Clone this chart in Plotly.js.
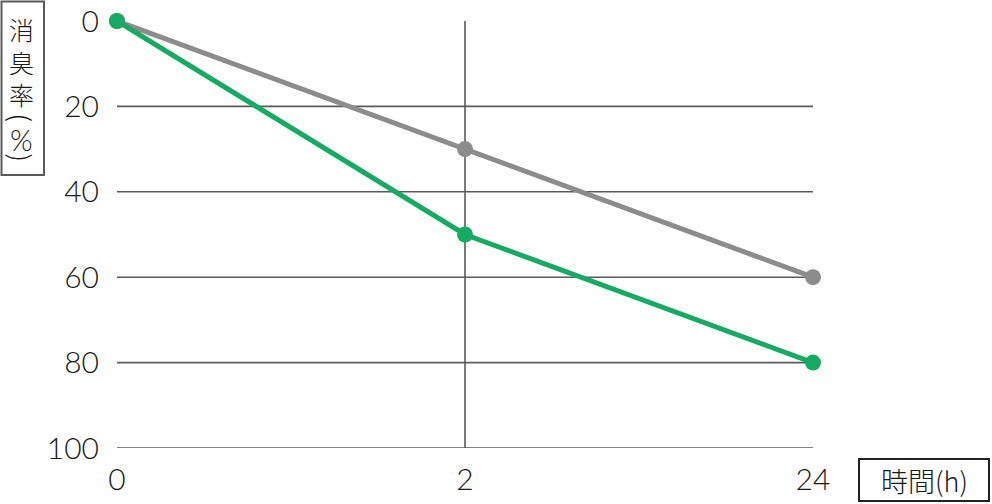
<!DOCTYPE html>
<html>
<head>
<meta charset="utf-8">
<script src="https://cdn.plot.ly/plotly-3.0.1.min.js"></script>
<style>html,body{margin:0;padding:0;background:#fff;}#chart{width:992px;height:504px;}</style>
</head>
<body>
<div id="chart"></div>
<script>
// ---- data ----
var xCategories = ['0', '2', '24'];
var seriesGrey = [0, 30, 60];
var seriesGreen = [0, 50, 80];
var yTickValues = [0, 20, 40, 60, 80, 100];
var yTickLabels = ['0', '20', '40', '60', '80', '100'];
var gridValues = [20, 40, 60, 80, 100];
var yTitleMain = ['消', '臭', '率'];
var yTitleOpen = '(';
var yTitleUnit = '%';
var yTitleClose = ')';
var xTitle = '時間(h)';

// ---- layout constants (pixels) ----
var W = 992, H = 504;
var L = 117, R = 813, T = 21, B = 448;
function px(x) { return (x - L) / (R - L); }
function py(y) { return (B - y) / (B - T); }

var CJK = '"Noto Sans CJK JP", "Noto Sans", sans-serif';
var NUM = 'Lato, "Noto Sans", sans-serif';
var gridColor = '#5a5a5a';
var textColor = '#1a1a1a';

var shapes = gridValues.map(function (v) {
  return { type: 'line', xref: 'x', yref: 'y', x0: 0, x1: 2, y0: v, y1: v,
           line: { color: gridColor, width: 1.6 }, layer: 'below' };
});
shapes.push({ type: 'line', xref: 'x', yref: 'y', x0: 1, x1: 1, y0: 0, y1: 100,
              line: { color: gridColor, width: 1.6 }, layer: 'below' });
// boxed y title frame
shapes.push({ type: 'rect', xref: 'paper', yref: 'paper',
              x0: px(1.5), x1: px(44), y0: py(1.5), y1: py(175),
              line: { color: '#5a5a5a', width: 2 }, fillcolor: 'rgba(0,0,0,0)' });
// boxed x title frame
shapes.push({ type: 'rect', xref: 'paper', yref: 'paper',
              x0: px(859), x1: px(989), y0: py(459), y1: py(501),
              line: { color: '#222', width: 2 }, fillcolor: 'rgba(0,0,0,0)' });

var traces = [
  { x: xCategories, y: seriesGrey, type: 'scatter', mode: 'lines+markers',
    line: { color: '#8c8c8c', width: 5 }, marker: { color: '#8c8c8c', size: 16 },
    cliponaxis: false, hoverinfo: 'none', showlegend: false },
  { x: xCategories, y: seriesGreen, type: 'scatter', mode: 'lines+markers',
    line: { color: '#17aa63', width: 5 }, marker: { color: '#17aa63', size: 16 },
    cliponaxis: false, hoverinfo: 'none', showlegend: false }
];

var annotations = [
  { xref: 'paper', yref: 'paper', x: px(21.5), y: py(61),
    xanchor: 'center', yanchor: 'middle', showarrow: false,
    text: yTitleMain.join('<br>'),
    font: { family: CJK, size: 25, color: textColor, weight: 300 } },
  { xref: 'paper', yref: 'paper', x: px(21.5), y: py(118),
    xanchor: 'center', yanchor: 'middle', showarrow: false, textangle: 90,
    text: yTitleOpen, font: { family: CJK, size: 27, color: textColor, weight: 300 } },
  { xref: 'paper', yref: 'paper', x: px(21.5), y: py(139),
    xanchor: 'center', yanchor: 'middle', showarrow: false,
    text: yTitleUnit, font: { family: NUM, size: 29, color: textColor, weight: 300 } },
  { xref: 'paper', yref: 'paper', x: px(21.5), y: py(158),
    xanchor: 'center', yanchor: 'middle', showarrow: false, textangle: 90,
    text: yTitleClose, font: { family: CJK, size: 27, color: textColor, weight: 300 } },
  { xref: 'paper', yref: 'paper', x: px(924), y: py(480),
    xanchor: 'center', yanchor: 'middle', text: xTitle, showarrow: false,
    font: { family: CJK, size: 27, color: textColor, weight: 300 } }
];

var layout = {
  width: W, height: H,
  margin: { l: L, r: W - R, t: T, b: H - B, pad: 0 },
  paper_bgcolor: '#fff', plot_bgcolor: '#fff',
  showlegend: false,
  font: { family: NUM, color: textColor, size: 30 },
  xaxis: {
    type: 'category', range: [0, 2], showgrid: false, zeroline: false, showline: false,
    ticks: '', tickfont: { family: NUM, size: 30, color: textColor, weight: 300 }, ticklabelstandoff: 11,
    fixedrange: true
  },
  yaxis: {
    range: [100, 0], tickvals: yTickValues, ticktext: yTickLabels,
    showgrid: false, zeroline: false, showline: false, ticks: '',
    tickfont: { family: NUM, size: 30, color: textColor, weight: 300 }, ticklabelstandoff: 17,
    fixedrange: true
  },
  shapes: shapes,
  annotations: annotations
};

Plotly.newPlot('chart', traces, layout, { displayModeBar: false, staticPlot: true });
</script>
</body>
</html>
